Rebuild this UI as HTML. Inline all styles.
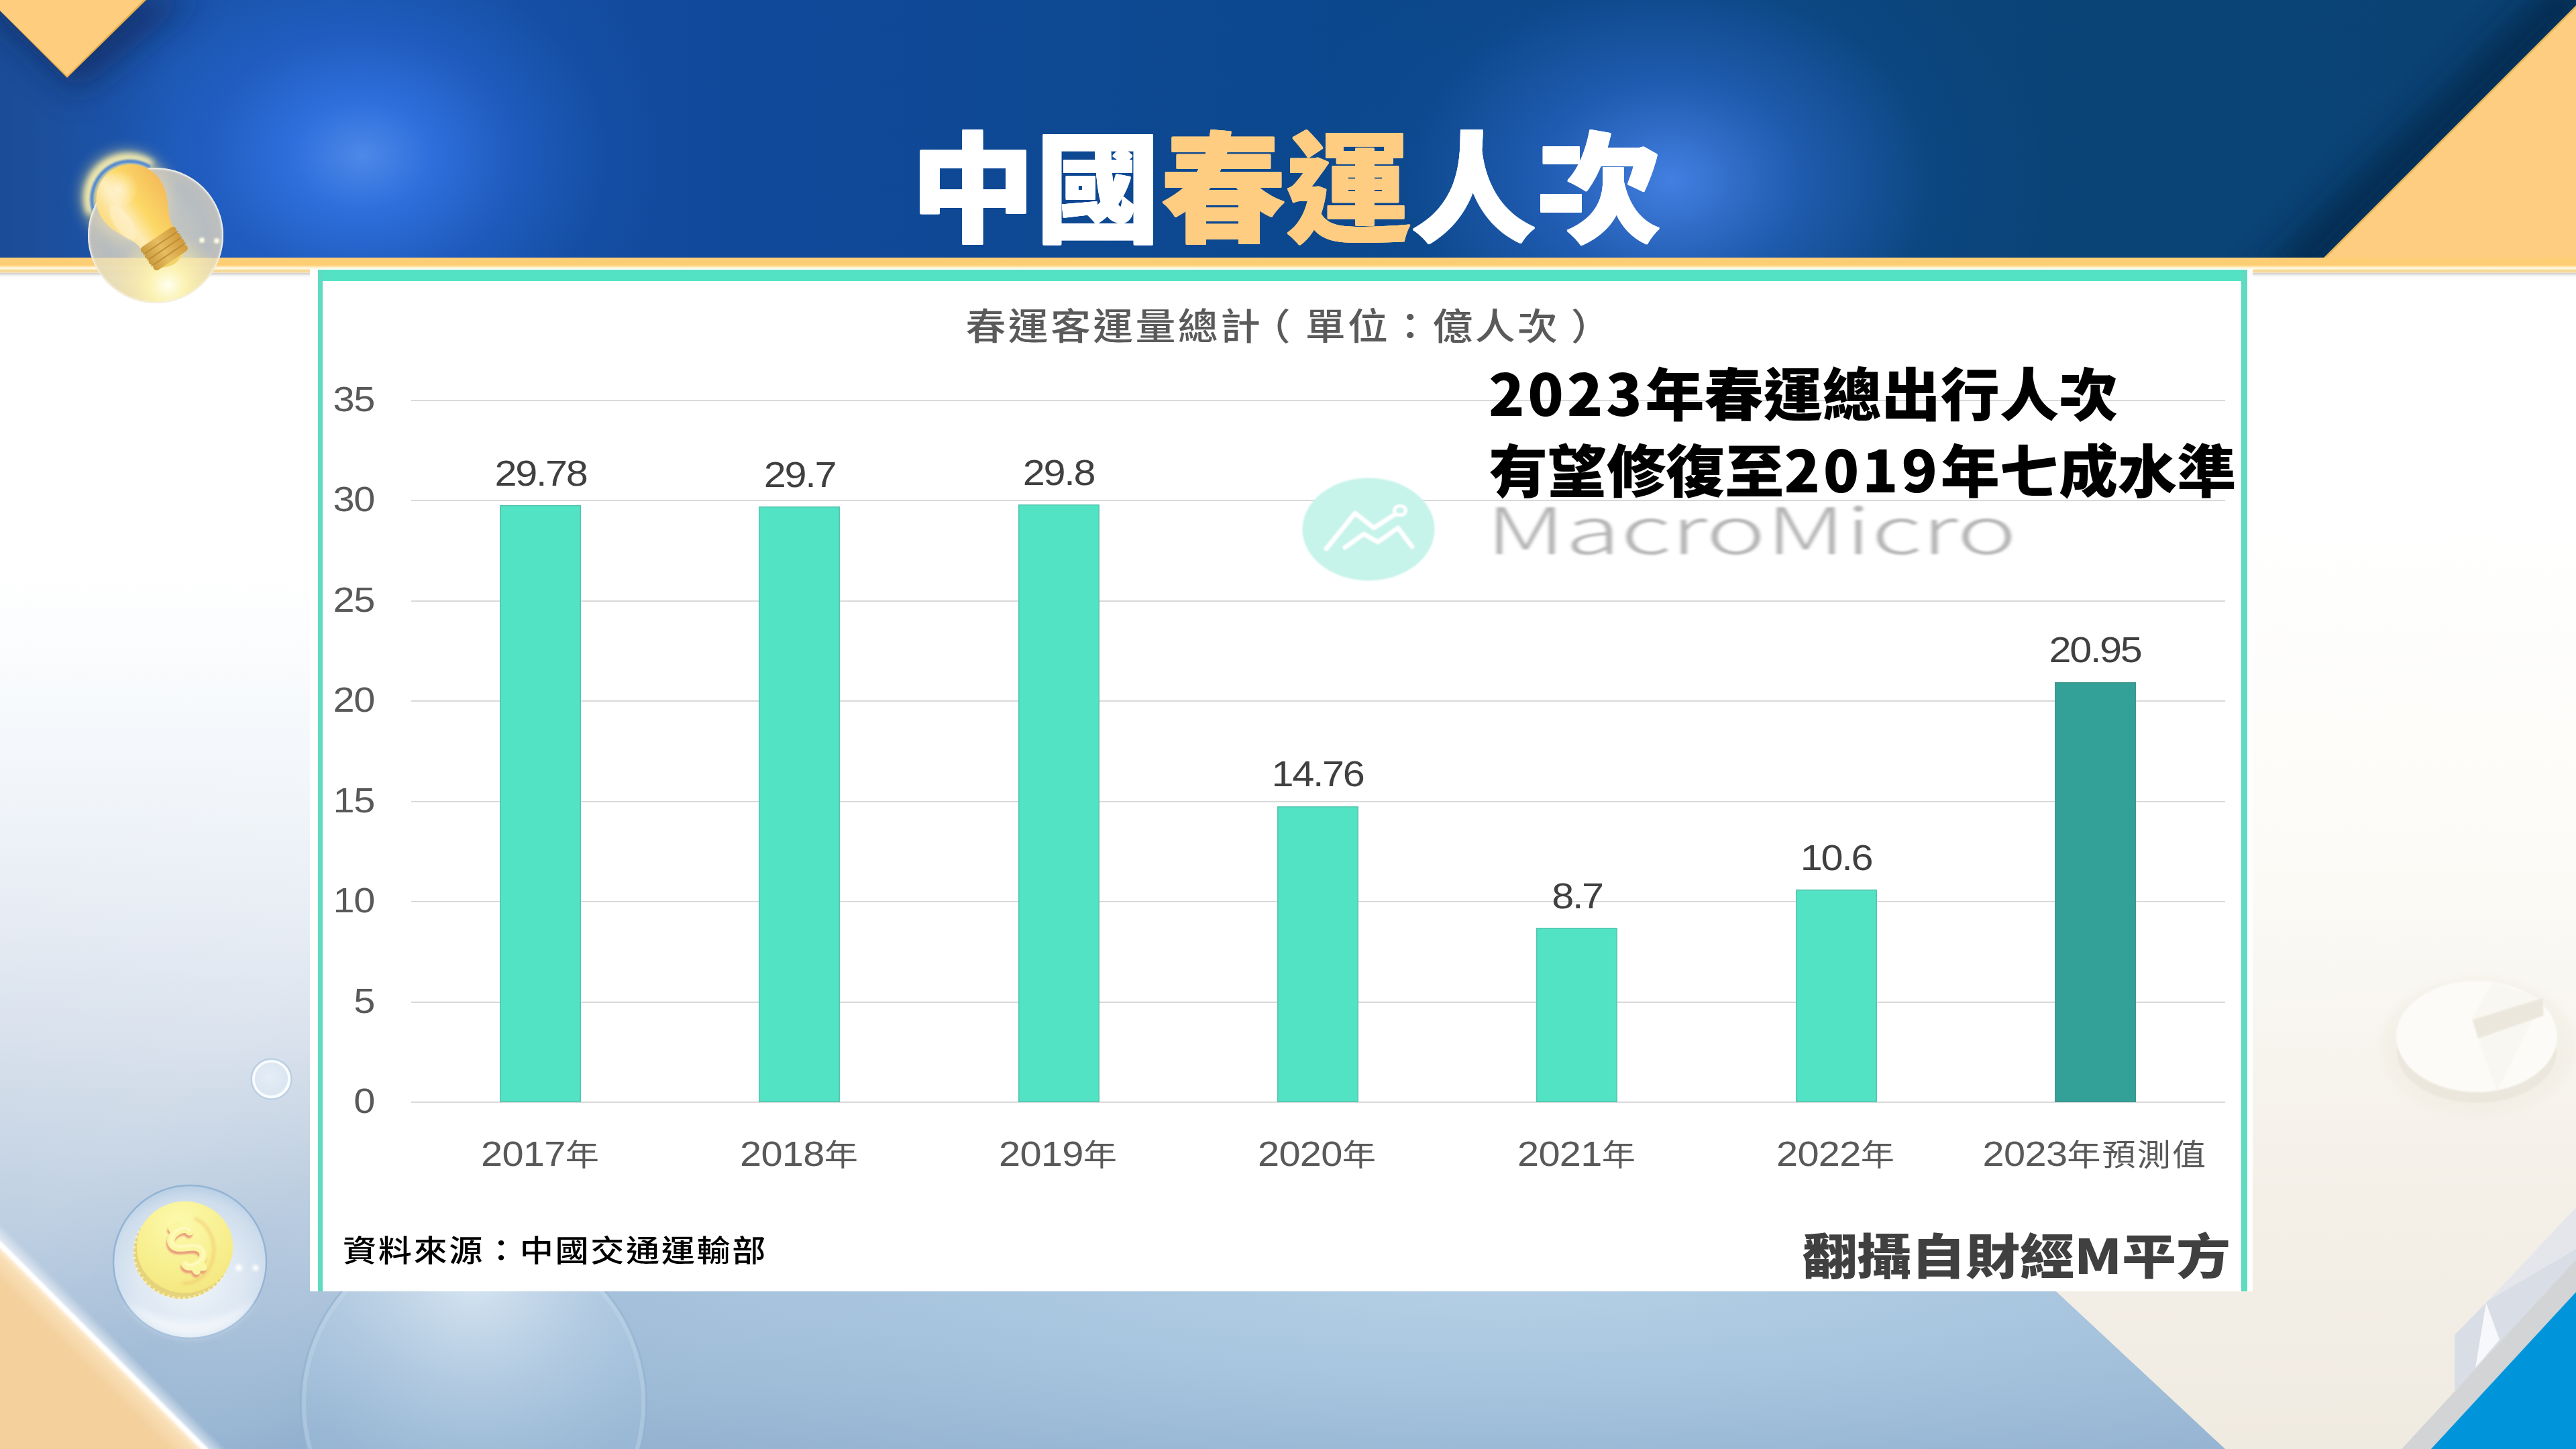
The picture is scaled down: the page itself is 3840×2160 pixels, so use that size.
<!DOCTYPE html>
<html lang="zh-Hant">
<head>
<meta charset="utf-8">
<title>中國春運人次</title>
<style>
html,body{margin:0;padding:0;}
body{width:3840px;height:2160px;position:relative;overflow:hidden;background:#fff;
 font-family:"Liberation Sans","Noto Sans CJK TC",sans-serif;}
.abs{position:absolute;}
#bg{left:0;top:0;width:3840px;height:2160px;background:linear-gradient(180deg,#ffffff 0px,#ffffff 850px,#f9fbfd 1000px,#f0f4f9 1200px,#e6ecf4 1362px,#d7e0ec 1540px,#c9d6e5 1670px,#b4c8de 1854px,#94b3d1 2160px);}
#bgsvg{left:0;top:0;}
#header{left:0;top:0;width:3840px;height:385px;overflow:hidden;
 background:
  radial-gradient(ellipse 470px 370px at 540px 232px,rgba(80,140,235,.95) 0,rgba(48,114,226,.9) 22%,rgba(38,100,208,.55) 50%,rgba(26,86,182,.2) 78%,rgba(20,80,170,0) 100%),
  radial-gradient(ellipse 560px 420px at 2490px 268px,rgba(70,130,230,.95) 0,rgba(45,105,205,.6) 35%,rgba(20,80,160,.2) 70%,rgba(10,70,130,0) 100%),
  linear-gradient(90deg,#1b4c96 0,#1c56ae 260px,#10499a 1100px,#0c488f 1900px,#0a4478 2900px,#0a4273 3840px);}
#title{left:1357px;top:0;white-space:nowrap;transform-origin:0 0;transform:scale(1.0366,0.99);
 font-family:"Liberation Sans","Noto Sans CJK TC",sans-serif;font-weight:900;font-size:180px;line-height:184px;color:#fff;letter-spacing:0px;text-shadow:1px 0 currentColor,-1px 0 currentColor,0 1px currentColor,0 -1px currentColor,1px 1px currentColor,-1px 1px currentColor,1px -1px currentColor,-1px -1px currentColor;}
#title .o{color:#fecd82;}

#bands{left:0;top:384px;width:3840px;height:30px;
 background:linear-gradient(180deg,#fecf78 0,#fecd72 11px,#ffdf9e 13px,#fff6d8 15px,#fffae6 17px,#f6d995 18.5px,#f4d793 20.5px,#ffe9bd 22px,#d6d3d0 23.5px,#dedede 25px,rgba(240,240,240,.6) 27px,rgba(255,255,255,0) 30px);}
#panel{left:462px;top:401px;width:2896px;height:1524px;background:#fff;}
.teal{background:#53e3c4;}
.grid{left:613px;width:2704px;height:2px;background:#d9d9d9;}
.ylab{left:357.5px;width:200px;text-align:right;font-size:52px;line-height:60px;color:#595959;letter-spacing:-1.2px;transform-origin:100% 50%;transform:scaleX(1.11);}
.bar{width:121px;background:#52e3c4;box-shadow:inset 0 0 0 1.5px rgba(90,120,120,.28);}
.dlab{width:400px;text-align:center;font-size:53.5px;line-height:60px;color:#404040;letter-spacing:-2.1px;transform:scaleX(1.11);}
.xlab{width:500px;text-align:center;font-size:52px;line-height:60px;color:#595959;letter-spacing:-0.6px;white-space:nowrap;transform:scaleX(1.11);}
.xlab span{font-family:"Liberation Sans","Noto Sans CJK TC",sans-serif;font-size:45.2px;letter-spacing:1.9px;}
#ctitle{left:1414px;top:446px;width:1000px;text-align:center;font-family:"Liberation Sans","Noto Sans CJK TC",sans-serif;font-weight:500;font-size:54.5px;line-height:84px;letter-spacing:3px;color:#5a5a5a;white-space:nowrap;transform:scaleX(1.10);}
#src{left:510.5px;top:1829.8px;font-family:"Liberation Sans","Noto Sans CJK TC",sans-serif;font-weight:500;font-size:45px;line-height:72px;letter-spacing:2.3px;color:#000;white-space:nowrap;transform-origin:0 50%;transform:scaleX(1.115);}
#credit{left:2686.5px;top:1818px;font-family:"Noto Sans CJK TC",sans-serif;font-weight:900;font-size:71.5px;line-height:100px;color:#404040;white-space:nowrap;transform-origin:0 0;transform:scale(1.133,1);}
.note{left:2219px;font-family:"Noto Sans CJK TC",sans-serif;font-weight:900;font-size:85.6px;line-height:110px;color:#000;white-space:nowrap;transform-origin:0 0;transform:scale(1.029,1);}
.note b{font-weight:900;letter-spacing:4.6px;}
#wm{left:2214.5px;top:705px;font-family:"Noto Sans CJK TC","Liberation Sans",sans-serif;font-weight:300;font-size:96px;line-height:160px;color:#b4b4b4;white-space:nowrap;transform-origin:0 0;transform:scale(1.567,1);filter:blur(1.8px);}
</style>
</head>
<body>
<div id="bg" class="abs"></div>
<svg id="bgsvg" class="abs" width="3840" height="2160" viewBox="0 0 3840 2160">
<defs>
<linearGradient id="beige" x1="0" y1="401" x2="0" y2="2160" gradientUnits="userSpaceOnUse">
<stop offset="0" stop-color="#ffffff"/><stop offset=".2" stop-color="#ffffff"/><stop offset=".5" stop-color="#fcfbf7"/><stop offset=".78" stop-color="#f4f0e8"/><stop offset="1" stop-color="#f0ebe1"/></linearGradient>
<radialGradient id="lowglow" cx="2250" cy="1900" r="1700" gradientUnits="userSpaceOnUse" gradientTransform="translate(0 1482) scale(1 .22)">
<stop offset="0" stop-color="#b6d1e6" stop-opacity=".95"/><stop offset=".45" stop-color="#aac9e2" stop-opacity=".7"/><stop offset=".8" stop-color="#a0c1dd" stop-opacity=".3"/><stop offset="1" stop-color="#9dbfdc" stop-opacity="0"/></radialGradient>
<linearGradient id="sheen" x1="0" y1="1250" x2="900" y2="2160" gradientUnits="userSpaceOnUse">
<stop offset="0" stop-color="#fff" stop-opacity="0"/><stop offset=".35" stop-color="#fff" stop-opacity=".1"/><stop offset=".55" stop-color="#fff" stop-opacity="0"/><stop offset=".75" stop-color="#7f9fc4" stop-opacity=".14"/><stop offset="1" stop-color="#7f9fc4" stop-opacity="0"/></linearGradient>
<linearGradient id="oedge" x1="150" y1="2005" x2="122" y2="2033" gradientUnits="userSpaceOnUse">
<stop offset="0" stop-color="#fff6e8"/><stop offset=".12" stop-color="#fdebd0"/><stop offset=".3" stop-color="#f9dfb6"/><stop offset="1" stop-color="#f3d09c"/></linearGradient>
<linearGradient id="oglow" x1="150" y1="2005" x2="166" y2="1989" gradientUnits="userSpaceOnUse">
<stop offset="0" stop-color="#fff" stop-opacity=".9"/><stop offset=".3" stop-color="#fff" stop-opacity=".5"/><stop offset="1" stop-color="#fff" stop-opacity="0"/></linearGradient>
<radialGradient id="bub1" cx=".5" cy=".62" r=".62"><stop offset="0" stop-color="#f4f8fc" stop-opacity=".95"/><stop offset=".55" stop-color="#e6eef7" stop-opacity=".85"/><stop offset=".85" stop-color="#d3e1ef" stop-opacity=".8"/><stop offset="1" stop-color="#b5cde4" stop-opacity=".9"/></radialGradient>
<radialGradient id="bub2" cx=".5" cy=".12" r=".9"><stop offset="0" stop-color="#dce9f4" stop-opacity=".95"/><stop offset=".3" stop-color="#c3d8ea" stop-opacity=".7"/><stop offset=".7" stop-color="#a3c2dd" stop-opacity=".35"/><stop offset="1" stop-color="#94b7d6" stop-opacity=".4"/></radialGradient>
<radialGradient id="bub3" cx=".45" cy=".45" r=".6"><stop offset="0" stop-color="#e8f0f8" stop-opacity=".9"/><stop offset=".7" stop-color="#dbe7f3" stop-opacity=".9"/><stop offset="1" stop-color="#f8fbfe" stop-opacity="1"/></radialGradient>
<radialGradient id="coin" cx=".45" cy=".25" r=".85"><stop offset="0" stop-color="#fcfaae"/><stop offset=".5" stop-color="#f8f092"/><stop offset="1" stop-color="#f3e57c"/></radialGradient>
<filter id="b1" x="-20%" y="-20%" width="140%" height="140%"><feGaussianBlur stdDeviation="1.2"/></filter>
<filter id="b2" x="-50%" y="-50%" width="200%" height="200%"><feGaussianBlur stdDeviation="2"/></filter>
<filter id="b6" x="-50%" y="-50%" width="200%" height="200%"><feGaussianBlur stdDeviation="6"/></filter>
</defs>
<rect x="0" y="1500" width="3840" height="660" fill="url(#lowglow)"/>
<rect x="0" y="1100" width="1400" height="1060" fill="url(#sheen)"/>
<!-- beige right polygon -->
<polygon points="1430,401 3317,2160 3840,2160 3840,401" fill="url(#beige)"/>
<!-- faint pie icon -->
<ellipse cx="3694" cy="1560" rx="146" ry="104" fill="#eeeadf" opacity=".4" filter="url(#b6)"/>
<g filter="url(#b1)">
<ellipse cx="3692" cy="1568" rx="119" ry="76" fill="#ebe7dc"/>
<ellipse cx="3692" cy="1545" rx="120" ry="83" fill="#fcfbf8"/>
<polygon points="3684,1520 3716,1464 3790,1490 3722,1626" fill="#f9f7f2"/>
<polygon points="3686,1520 3790,1488 3792,1514 3694,1548" fill="#ebe7dd"/>
</g>
<!-- bottom right: gray band, paper fold, blue triangle -->
<polygon points="3659,1990 3709,1939 3840,1800 3840,1880 3659,2074" fill="#e4e6ec"/>
<polygon points="3709,1939 3840,1862 3840,1880 3659,2074 3659,1990" fill="#d9dde6"/>
<polygon points="3706,1942 3726,1997 3690,2039" fill="#f7f8fb"/>
<polygon points="3840,1878 3580,2160 3626,2160 3840,1926" fill="#d3d4d6"/>
<polygon points="3840,1926 3624,2160 3840,2160" fill="#0095da"/>
<!-- bottom-left orange triangle -->
<polygon points="0,1800 360,2160 304,2160 0,1856" fill="url(#oglow)"/>
<polygon points="0,1855 304,2160 0,2160" fill="url(#oedge)"/>
<line x1="-10" y1="1845" x2="310" y2="2165" stroke="#ffffff" stroke-width="7" filter="url(#b1)"/>
<!-- large bubble -->
<circle cx="706" cy="2092" r="259" fill="url(#bub2)"/>
<circle cx="706" cy="2092" r="258" fill="none" stroke="#8fb0d0" stroke-width="2.5" opacity=".7"/>
<circle cx="706" cy="2092" r="253" fill="none" stroke="#c9dcec" stroke-width="6" opacity=".35"/>
<!-- small bubble -->
<circle cx="404.5" cy="1608.5" r="30.5" fill="url(#bub3)"/>
<circle cx="404.5" cy="1608.5" r="30" fill="none" stroke="#b7cde3" stroke-width="2"/>
<circle cx="404.5" cy="1608.5" r="26.5" fill="none" stroke="#ffffff" stroke-width="3.5" opacity=".85"/>
<!-- coin bubble -->
<circle cx="283" cy="1881" r="114.5" fill="url(#bub1)"/>
<circle cx="283" cy="1881" r="114" fill="none" stroke="#93b4d4" stroke-width="2.5"/>
<path d="M 185 1935 A 112 112 0 0 0 381 1935 A 140 120 0 0 1 185 1935 Z" fill="#ffffff" opacity=".55" filter="url(#b6)"/>
<!-- coin -->
<ellipse cx="271" cy="1867" rx="72" ry="69" fill="#e6d47c"/>
<ellipse cx="271" cy="1867" rx="71" ry="68" fill="none" stroke="#fff6c8" stroke-width="4" stroke-dasharray="3 5" opacity=".75"/>
<ellipse cx="275.6" cy="1859" rx="71.7" ry="68.3" fill="url(#coin)"/>
<path d="M 290 1816 A 43 50 0 0 1 272 1913" fill="none" stroke="#efc46a" stroke-width="3.5" opacity=".75" filter="url(#b2)"/>
<g transform="translate(279 1860) rotate(-30)" fill="none" stroke-linecap="round" stroke-linejoin="round">
<path d="M 15 -19 C 15 -32 -17 -32 -17 -16 C -17 0 17 -2 17 16 C 17 32 -15 32 -15 20 M -5 -37 V -30 M 6 -37 V -30 M -5 30 V 37 M 6 30 V 37" stroke="#e58674" stroke-width="11.5" transform="translate(-3.2 3)" opacity=".78" filter="url(#b1)"/>
<path d="M 15 -19 C 15 -32 -17 -32 -17 -16 C -17 0 17 -2 17 16 C 17 32 -15 32 -15 20 M -5 -37 V -30 M 6 -37 V -30 M -5 30 V 37 M 6 30 V 37" stroke="#fbf6a2" stroke-width="11.5"/>
<path d="M 15 -19 C 15 -32 -17 -32 -17 -16 C -17 0 17 -2 17 16 C 17 32 -15 32 -15 20" stroke="#fffcc8" stroke-width="4" transform="translate(1.5 -1.5)" opacity=".7"/>
</g>
<circle cx="356" cy="1890" r="5" fill="#fff" filter="url(#b2)"/>
<circle cx="381" cy="1890" r="4.5" fill="#fff" filter="url(#b2)"/>
</svg>
<div id="header" class="abs"></div>
<svg class="abs" style="left:0;top:0" width="3840" height="420" viewBox="0 0 3840 420">
<defs>
<filter id="shd" x="-50%" y="-50%" width="200%" height="200%"><feGaussianBlur stdDeviation="26"/></filter>
<linearGradient id="tlsh" x1="0" y1="0" x2="1" y2="1"><stop offset="0" stop-color="#0b2350" stop-opacity=".75"/><stop offset="1" stop-color="#0b2350" stop-opacity="0"/></linearGradient>
<clipPath id="hclip"><rect x="0" y="0" width="3840" height="385"/></clipPath>
</defs>
<g clip-path="url(#hclip)">
<polygon points="-40,-10 115,140 300,-10" fill="#0a1f4a" opacity=".55" filter="url(#shd)"/>
<polygon points="3900,-30 3440,430 3350,430 3810,-30" fill="#041a38" opacity=".62" filter="url(#shd)"/>
</g>
<polygon points="-16,0 100,116 218,0" fill="#e9b04a"/>
<polygon points="-16,0 100,113 214,0" fill="#fecd7d"/>
<polygon points="3840,8 3463,385 3451,397 3840,397" fill="#e6b85a"/>
<polygon points="3840,12 3466,386 3455,397 3840,397" fill="#fecd82"/>
</svg>
<div id="title" class="abs" style="top:195px"><span>中國</span><span class="o">春運</span><span>人次</span></div>
<div id="bands" class="abs"></div>
<div id="panel" class="abs"></div>
<div class="abs teal" style="left:474px;top:402px;width:2876px;height:17px"></div>
<div class="abs teal" style="left:474px;top:402px;width:6.5px;height:1523px;background:#5edbc0"></div>
<div class="abs teal" style="left:3341px;top:402px;width:8.5px;height:1523px;background:#5edbc0"></div>
<div class="abs grid" style="top:596.0px"></div>
<div class="abs ylab" style="top:565.0px">35</div>
<div class="abs grid" style="top:745.4px"></div>
<div class="abs ylab" style="top:714.4px">30</div>
<div class="abs grid" style="top:894.9px"></div>
<div class="abs ylab" style="top:863.9px">25</div>
<div class="abs grid" style="top:1044.3px"></div>
<div class="abs ylab" style="top:1013.3px">20</div>
<div class="abs grid" style="top:1193.7px"></div>
<div class="abs ylab" style="top:1162.7px">15</div>
<div class="abs grid" style="top:1343.2px"></div>
<div class="abs ylab" style="top:1312.2px">10</div>
<div class="abs grid" style="top:1492.6px"></div>
<div class="abs ylab" style="top:1461.6px">5</div>
<div class="abs grid" style="top:1642.0px"></div>
<div class="abs ylab" style="top:1611.0px">0</div>
<div class="abs bar" style="left:745.0px;top:753.0px;height:890.0px;background:#52e3c4"></div>
<div class="abs dlab" style="left:605.5px;top:675.5px">29.78</div>
<div class="abs xlab" style="left:555.5px;top:1690px">2017<span>年</span></div>
<div class="abs bar" style="left:1131.3px;top:755.4px;height:887.6px;background:#52e3c4"></div>
<div class="abs dlab" style="left:991.8px;top:677.9px">29.7</div>
<div class="abs xlab" style="left:941.8px;top:1690px">2018<span>年</span></div>
<div class="abs bar" style="left:1517.6px;top:752.4px;height:890.6px;background:#52e3c4"></div>
<div class="abs dlab" style="left:1378.1px;top:674.9px">29.8</div>
<div class="abs xlab" style="left:1328.1px;top:1690px">2019<span>年</span></div>
<div class="abs bar" style="left:1903.9px;top:1201.9px;height:441.1px;background:#52e3c4"></div>
<div class="abs dlab" style="left:1764.4px;top:1124.4px">14.76</div>
<div class="abs xlab" style="left:1714.4px;top:1690px">2020<span>年</span></div>
<div class="abs bar" style="left:2290.2px;top:1383.0px;height:260.0px;background:#52e3c4"></div>
<div class="abs dlab" style="left:2150.7px;top:1305.5px">8.7</div>
<div class="abs xlab" style="left:2100.7px;top:1690px">2021<span>年</span></div>
<div class="abs bar" style="left:2676.5px;top:1326.2px;height:316.8px;background:#52e3c4"></div>
<div class="abs dlab" style="left:2537.0px;top:1248.7px">10.6</div>
<div class="abs xlab" style="left:2487.0px;top:1690px">2022<span>年</span></div>
<div class="abs bar" style="left:3062.8px;top:1016.9px;height:626.1px;background:#33a197"></div>
<div class="abs dlab" style="left:2923.3px;top:939.4px">20.95</div>
<div class="abs xlab" style="left:2873.3px;top:1690px">2023<span>年預測值</span></div>
<div id="ctitle" class="abs">春運客運量總計<span style="position:relative;left:-17px">（</span>單位：億人次<span style="position:relative;left:15px">）</span></div>
<div id="wmlogo" class="abs" style="left:1941px;top:712px;width:198px;height:154px;filter:blur(1.2px)"><svg width="198" height="154" viewBox="0 0 198 154"><ellipse cx="99" cy="77" rx="98.5" ry="76.5" fill="#c6f3ea"/><g fill="none" stroke="#fff" stroke-width="7" stroke-linecap="round" stroke-linejoin="round"><polyline points="36,106 79,53 107,75 138,55"/><polyline points="64,104 92,84 113,96 143,75 164,103"/><ellipse cx="146" cy="49" rx="8.5" ry="7" stroke-width="5"/></g></svg></div>
<div id="wm" class="abs">MacroMicro</div>
<div class="abs note" style="top:528px"><b>2023</b>年春運總出行人次</div>
<div class="abs note" style="top:642px">有望修復至<b>2019</b>年七成水準</div>
<div id="src" class="abs">資料來源：中國交通運輸部</div>
<div id="credit" class="abs">翻攝自財經M平方</div>
<svg class="abs" style="left:80px;top:190px" width="320" height="290" viewBox="80 190 320 290">
<defs>
<radialGradient id="lbub" cx="232" cy="351" r="101" gradientUnits="userSpaceOnUse"><stop offset="0" stop-color="#e9e0c2" stop-opacity=".85"/><stop offset=".75" stop-color="#d8d2c2" stop-opacity=".82"/><stop offset=".95" stop-color="#cfcabd" stop-opacity=".9"/><stop offset="1" stop-color="#e8e6e0" stop-opacity=".9"/></radialGradient>
<radialGradient id="lglow" cx="250" cy="425" r="80" gradientUnits="userSpaceOnUse"><stop offset="0" stop-color="#fffff0" stop-opacity="1"/><stop offset=".35" stop-color="#fff6b0" stop-opacity=".8"/><stop offset="1" stop-color="#f8e49a" stop-opacity="0"/></radialGradient>
<linearGradient id="glass" x1="-52" y1="0" x2="52" y2="0" gradientUnits="userSpaceOnUse"><stop offset="0" stop-color="#fcdc80"/><stop offset=".3" stop-color="#fdecb8"/><stop offset=".55" stop-color="#fcd866"/><stop offset="1" stop-color="#f4bc5a"/></linearGradient>
<radialGradient id="ghi" cx="-8" cy="-22" r="30" gradientUnits="userSpaceOnUse"><stop offset="0" stop-color="#fff3d0" stop-opacity=".95"/><stop offset="1" stop-color="#fff3d0" stop-opacity="0"/></radialGradient>
<linearGradient id="ring" x1="-31" y1="0" x2="31" y2="0" gradientUnits="userSpaceOnUse"><stop offset="0" stop-color="#c99a3c"/><stop offset=".45" stop-color="#e6bd60"/><stop offset="1" stop-color="#d09a3a"/></linearGradient>
<filter id="lb12" x="-50%" y="-50%" width="200%" height="200%"><feGaussianBlur stdDeviation="11"/></filter>
<filter id="lb2" x="-50%" y="-50%" width="200%" height="200%"><feGaussianBlur stdDeviation="1.5"/></filter>
<filter id="lb4" x="-50%" y="-50%" width="200%" height="200%"><feGaussianBlur stdDeviation="4"/></filter>
<clipPath id="lbclip"><circle cx="232" cy="351" r="101"/></clipPath>
</defs>
<circle cx="188" cy="292" r="64" fill="#ffe98a" opacity=".8" filter="url(#lb12)"/>
<path d="M 136 318 A 60 60 0 0 1 226 246" fill="none" stroke="#fff4b4" stroke-width="13" opacity=".85" filter="url(#lb4)"/>
<path d="M 140 316 A 57 57 0 0 1 224 249" fill="none" stroke="#4a84d6" stroke-width="5" filter="url(#lb2)"/>
<circle cx="232" cy="351" r="101" fill="url(#lbub)"/>
<g clip-path="url(#lbclip)"><rect x="120" y="385" width="230" height="80" fill="#f7e7ad" opacity=".55"/><circle cx="250" cy="425" r="80" fill="url(#lglow)"/></g>
<circle cx="232" cy="351" r="100" fill="none" stroke="#f2efe6" stroke-width="2" opacity=".8"/>
<g transform="translate(195.5 297) rotate(-34)">
<path d="M -52 0 A 52 52 0 1 1 52 0 C 52 30 30 46 29 70 L -29 70 C -30 46 -52 30 -52 0 Z" fill="url(#glass)"/>
<ellipse cx="-8" cy="-22" rx="30" ry="26" fill="url(#ghi)"/>
<ellipse cx="-30" cy="22" rx="12" ry="30" fill="#fff1cc" opacity=".6" filter="url(#lb2)"/>
<path d="M -22 108 Q 0 124 22 108 Z" fill="#f2d46a"/>
<rect x="-31" y="68" width="62" height="10.5" rx="5" fill="url(#ring)"/>
<rect x="-31" y="78.5" width="62" height="10.5" rx="5" fill="url(#ring)"/>
<rect x="-31" y="89" width="62" height="10.5" rx="5" fill="url(#ring)"/>
<rect x="-30" y="99.5" width="60" height="10.5" rx="5" fill="url(#ring)"/>
<path d="M -31 78.5 H 31 M -31 89 H 31 M -31 99.5 H 31" stroke="#b98630" stroke-width="2" opacity=".8"/>
</g>
<circle cx="301" cy="358" r="4" fill="#fffbe0" filter="url(#lb2)"/>
<circle cx="323" cy="359" r="4" fill="#fffbe0" filter="url(#lb2)"/>
</svg>
</body>
</html>
